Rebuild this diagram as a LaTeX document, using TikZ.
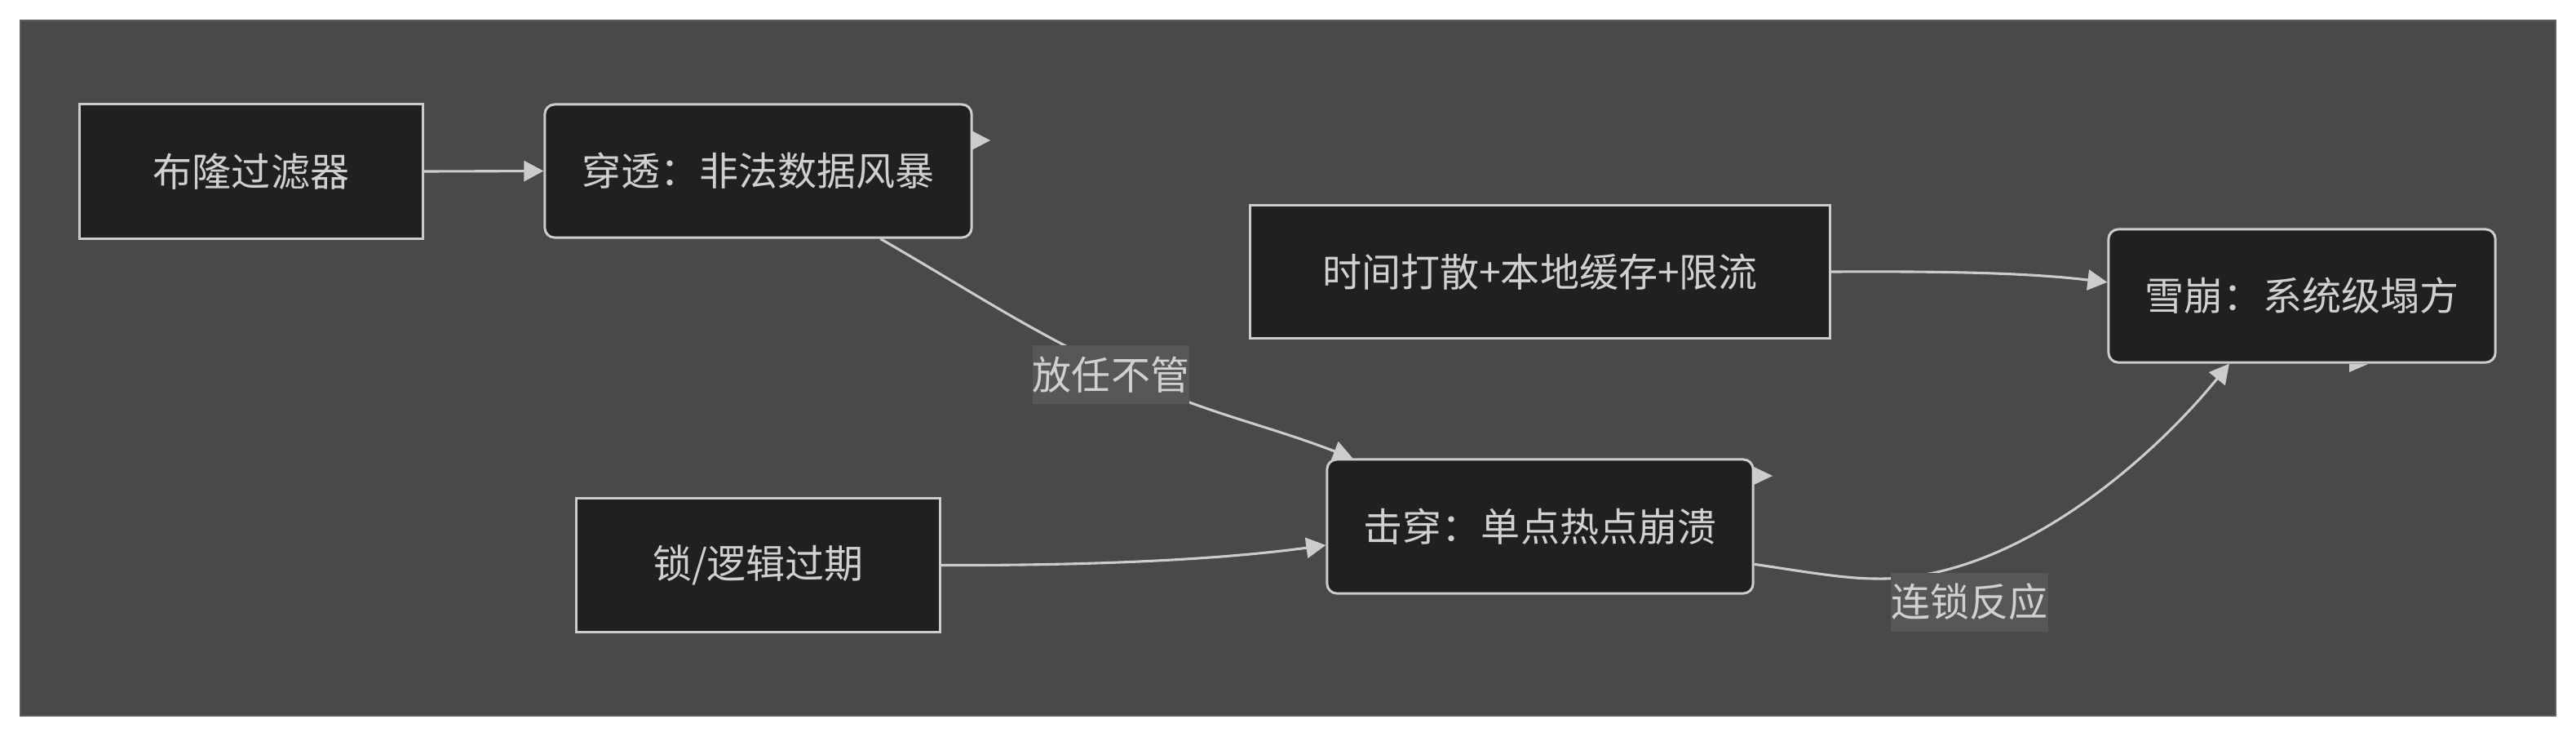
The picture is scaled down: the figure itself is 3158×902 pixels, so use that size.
\documentclass[tikz,border=0pt]{standalone}
\usepackage{fontspec}
\setmainfont{Noto Sans CJK SC}
\usetikzlibrary{arrows.meta}
\definecolor{panelbg}{HTML}{484949}
\definecolor{panelline}{HTML}{5E5E5E}
\definecolor{nodebg}{HTML}{1F2020}
\definecolor{linecol}{HTML}{CCCCCC}
\definecolor{txtcol}{HTML}{D0D0D0}
\definecolor{lblbg}{HTML}{575757}
\tikzset{
  base/.style={draw=linecol, fill=nodebg, line width=0.03cm, text=txtcol,
    inner sep=0pt, font=\fontsize{13.66pt}{16pt}\selectfont},
  sqbox/.style={base},
  rdbox/.style={base, rounded corners=0.12cm},
  edge/.style={draw=linecol, line width=0.031cm,
    -{Triangle[length=0.24cm,width=0.25cm]}},
  lbl/.style={fill=lblbg, text=txtcol, inner sep=0pt, minimum width=1.92cm,
    minimum height=0.72cm, font=\fontsize{13.66pt}{16pt}\selectfont},
  stray/.style={fill=linecol, draw=none}
}
\begin{document}
\begin{tikzpicture}[x=0.01cm,y=-0.01cm]
\useasboundingbox (0,0) rectangle (3158,902);
\fill[white] (0,0) rectangle (3158,902);
\filldraw[fill=panelbg, draw=panelline, line width=0.02cm] (25,25) rectangle (3133,877);

% nodes
\node[sqbox, minimum width=4.2cm, minimum height=1.64cm] (A) at (308,210) {布隆过滤器};
\node[rdbox, minimum width=5.23cm, minimum height=1.63cm] (B) at (929.5,209.5) {穿透：非法数据风暴};
\node[sqbox, minimum width=7.1cm, minimum height=1.62cm] (C) at (1888,333) {时间打散+本地缓存+限流};
\node[rdbox, minimum width=4.74cm, minimum height=1.63cm] (D) at (2822,362.5) {雪崩：系统级塌方};
\node[rdbox, minimum width=5.22cm, minimum height=1.64cm] (E) at (1888,645) {击穿：单点热点崩溃};
\node[sqbox, minimum width=4.45cm, minimum height=1.63cm] (F) at (929.5,692.5) {锁/逻辑过期};

% connectors
\draw[edge] (A.east) -- (B.west);
\draw[edge] (C.east) .. controls (2420,332) and (2500,336) .. (D.176);
\draw[edge] (F.east) .. controls (1350,693) and (1500,685) .. (E.185);

\coordinate (m1) at (1362,452);
\draw[edge] (B.-29.6) to[out=-30,in=154] (m1) to[out=-26,in=159] (E.160);
\node[lbl] (L1) at (1362,459) {放任不管};

\coordinate (m2) at (2300,709);
\draw[edge] (E.-10) .. controls (2210,700) and (2260,709) .. (m2)
  .. controls (2470,712) and (2640,560) .. (D.-137);
\node[lbl] (L2) at (2414.5,737.5) {连锁反应};

% stray arrow tips
\fill[stray] (1191,160) -- (1214,172) -- (1191,184) -- cycle;
\fill[stray] (2150,572) -- (2173,583) -- (2150,594) -- cycle;
\fill[stray] (2880,446) -- (2903,446) -- (2880,456) -- cycle;
\end{tikzpicture}
\end{document}
